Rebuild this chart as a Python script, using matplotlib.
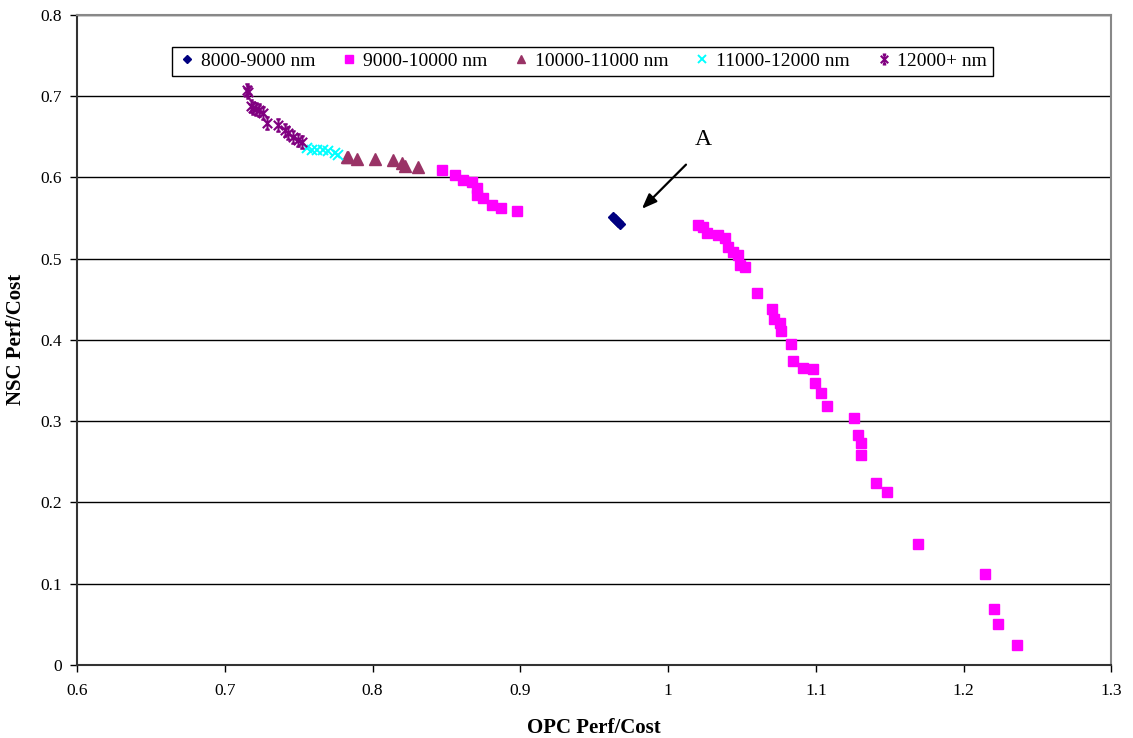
import matplotlib
matplotlib.use("Agg")
import matplotlib.pyplot as plt
from matplotlib.path import Path
from matplotlib.ticker import FuncFormatter

plt.rcParams['font.family'] = ['Liberation Serif', 'DejaVu Serif']

# ---- data ----
d8000_x = [0.9627, 0.9643, 0.9660, 0.9674]
d8000_y = [0.5513, 0.5485, 0.5455, 0.5427]

d9000_x = [0.8468, 0.8558, 0.8614, 0.8670, 0.8704, 0.8704, 0.8749, 0.8806, 0.8867, 0.8979,
           1.0204, 1.0237, 1.0265, 1.0339, 1.0384, 1.0407, 1.0441, 1.0474, 1.0486, 1.0519,
           1.0599, 1.0700, 1.0716, 1.0756, 1.0761, 1.0829, 1.0846, 1.0914, 1.0978, 1.0993,
           1.1034, 1.1072, 1.1259, 1.1286, 1.1302, 1.1305, 1.1406, 1.1482, 1.1688, 1.2146,
           1.2204, 1.2234, 1.2362]
d9000_y = [0.6084, 0.6031, 0.5969, 0.5948, 0.5867, 0.5785, 0.5744, 0.5662, 0.5621, 0.5591,
           0.5415, 0.5387, 0.5313, 0.5292, 0.5252, 0.5148, 0.5087, 0.5046, 0.4923, 0.4894,
           0.4575, 0.4382, 0.4254, 0.4205, 0.4115, 0.3947, 0.3745, 0.3651, 0.3638, 0.3467,
           0.3344, 0.3180, 0.3036, 0.2831, 0.2728, 0.2581, 0.2236, 0.2126, 0.1485, 0.1116,
           0.0689, 0.0505, 0.0242]

d10000_x = [0.7825, 0.7836, 0.7892, 0.8016, 0.8140, 0.8197, 0.8219, 0.8309]
d10000_y = [0.6249, 0.6249, 0.6224, 0.6224, 0.6207, 0.6182, 0.6133, 0.6126]

d11000_x = [0.7554, 0.7588, 0.7622, 0.7666, 0.7700, 0.7746, 0.7768]
d11000_y = [0.6359, 0.6338, 0.6338, 0.6338, 0.6318, 0.6298, 0.6277]

d12000_x = [0.7148, 0.7160, 0.7175, 0.7193, 0.7211, 0.7234, 0.7256, 0.7283, 0.7362, 0.7407,
            0.7430, 0.7464, 0.7497, 0.7520]
d12000_y = [0.7077, 0.7050, 0.6872, 0.6852, 0.6839, 0.6831, 0.6790, 0.6667, 0.6646, 0.6585,
            0.6544, 0.6502, 0.6462, 0.6429]

labels = ['8000-9000 nm', '9000-10000 nm', '10000-11000 nm', '11000-12000 nm', '12000+ nm']

x_ticks = [0.6, 0.7, 0.8, 0.9, 1.0, 1.1, 1.2, 1.3]
y_ticks = [0, 0.1, 0.2, 0.3, 0.4, 0.5, 0.6, 0.7, 0.8]

# star marker (X plus vertical bar)
star_path = Path([(0, -1), (0, 1), (-0.75, -0.75), (0.75, 0.75), (-0.75, 0.75), (0.75, -0.75),
                  (-0.35, 1), (0.35, 1), (-0.35, -1), (0.35, -1)],
                 [Path.MOVETO, Path.LINETO, Path.MOVETO, Path.LINETO, Path.MOVETO, Path.LINETO,
                  Path.MOVETO, Path.LINETO, Path.MOVETO, Path.LINETO])

fig = plt.figure(figsize=(11.33, 7.38), dpi=100)
ax = fig.add_axes([0.068, 0.099, 0.913, 0.881])

ax.set_axisbelow(True)
ax.grid(axis='y', color='black', linewidth=1.0)

ax.plot(d8000_x, d8000_y, linestyle='none', marker='D', markersize=5.5,
        color='#000080', label=labels[0])
ax.plot(d9000_x, d9000_y, linestyle='none', marker='s', markersize=7,
        color='#FF00FF', label=labels[1])
ax.plot(d10000_x, d10000_y, linestyle='none', marker='^', markersize=8,
        color='#993366', label=labels[2])
ax.plot(d11000_x, d11000_y, linestyle='none', marker='x', markersize=7,
        markeredgewidth=1.4, color='#00FFFF', label=labels[3])
ax.plot(d12000_x, d12000_y, linestyle='none', marker=star_path, markersize=9,
        markeredgewidth=1.5, color='#800080', label=labels[4])

# annotation arrow "A"
ax.text(1.0236, 0.646, 'A', fontsize=17, ha='center', va='center')
ax.annotate('', xy=(0.9809, 0.5588), xytext=(1.0134, 0.618),
            arrowprops=dict(arrowstyle='-|>,head_length=0.9,head_width=0.35',
                            color='black', lw=1.6))

ax.set_xlim(0.6, 1.3)
ax.set_ylim(0, 0.8)
ax.set_xticks(x_ticks)
ax.set_yticks(y_ticks)
fmt = FuncFormatter(lambda v, p: '{:g}'.format(round(v, 2)))
ax.xaxis.set_major_formatter(fmt)
ax.yaxis.set_major_formatter(fmt)
ax.tick_params(axis='both', direction='out', length=5, width=1, labelsize=12.5, colors='black')
ax.tick_params(axis='x', pad=8)
ax.tick_params(axis='y', pad=6)

for s in ['left', 'bottom']:
    ax.spines[s].set_color('#333333')
    ax.spines[s].set_linewidth(1.5)
for s in ['top', 'right']:
    ax.spines[s].set_color('#888888')
    ax.spines[s].set_linewidth(1.5)

ax.set_xlabel('OPC Perf/Cost', fontsize=15, fontweight='bold', labelpad=14)
ax.set_ylabel('NSC Perf/Cost', fontsize=15, fontweight='bold', labelpad=10)

leg = ax.legend(loc='upper center', bbox_to_anchor=(0.4885, 0.951), ncol=5, fontsize=14,
                frameon=True, fancybox=False, edgecolor='black', framealpha=1,
                handletextpad=0.2, columnspacing=1.25, handlelength=1.0,
                borderpad=0.3, borderaxespad=0, markerscale=0.8)
leg.get_frame().set_linewidth(1.0)

fig.savefig('out.png', dpi=100)
